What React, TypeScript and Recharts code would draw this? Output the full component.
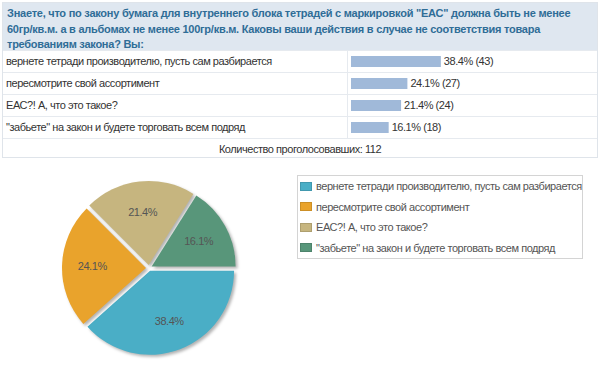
import {
  Bar,
  BarChart,
  Cell,
  LabelList,
  Legend,
  Pie,
  PieChart,
  Sector,
  XAxis,
  YAxis,
} from "recharts";

const questionLines = [
  "Знаете, что по закону бумага для внутреннего блока тетрадей с маркировкой \"ЕАС\" должна быть не менее",
  "60гр/кв.м. а в альбомах не менее 100гр/кв.м. Каковы ваши действия в случае не соответствия товара",
  "требованиям закона? Вы:",
];

const answers = [
  "вернете тетради производителю, пусть сам разбирается",
  "пересмотрите свой ассортимент",
  "ЕАС?! А, что это такое?",
  "\"забьете\" на закон и будете торговать всем подряд",
];
const votes = [43, 27, 24, 18];
const shares = [38.4, 24.1, 21.4, 16.1];
const totalVotes = 112;
const sliceColors = ["#4aaec6", "#e9a32c", "#c6b57f", "#58967a"];

const FONT = '"Liberation Sans", Arial, sans-serif';
const TIGHT = -0.45;
const RAD = Math.PI / 180;

const barData = answers.map((name, i) => ({
  name,
  share: shares[i],
  text: `${shares[i]}% (${votes[i]})`,
}));

const pieData = answers.map((name, i) => ({ name, votes: votes[i] }));

// each slice is pushed a few px out along its middle angle, with a soft shadow
function ExplodedSlice(props: any) {
  const { cx, cy, midAngle, innerRadius, outerRadius, startAngle, endAngle, percent, index } = props;
  const cos = Math.cos(-midAngle * RAD);
  const sin = Math.sin(-midAngle * RAD);
  const ox = cx + 3 * cos;
  const oy = cy + 3 * sin;
  const r = outerRadius * 0.64;
  return (
    <g>
      <Sector
        cx={ox}
        cy={oy}
        innerRadius={innerRadius}
        outerRadius={outerRadius}
        startAngle={startAngle}
        endAngle={endAngle}
        fill={sliceColors[index]}
        style={{ filter: "drop-shadow(2px 2px 1.5px rgba(0,0,0,0.3))" }}
      />
      <text
        x={ox + r * cos}
        y={oy + r * sin}
        textAnchor="middle"
        dominantBaseline="central"
        fill="#555"
        fontSize={11}
        fontFamily={FONT}
        style={{ letterSpacing: TIGHT }}
      >
        {(percent * 100).toFixed(1)}%
      </text>
    </g>
  );
}

// legend keeps the answer order of the table
function LegendBox() {
  return (
    <div
      style={{
        border: "1px solid #d4d4d4",
        padding: "0 0 0 2px",
        fontFamily: FONT,
        fontSize: 11,
        letterSpacing: TIGHT,
        color: "#555",
        whiteSpace: "nowrap",
      }}
    >
      {answers.map((a, i) => (
        <div key={i} style={{ display: "flex", alignItems: "center", height: 20.5 }}>
          <span
            style={{
              display: "inline-block",
              flexShrink: 0,
              width: 10,
              height: 7,
              background: sliceColors[i],
              border: "1px solid rgba(0,0,0,0.12)",
              marginRight: 4,
            }}
          />
          {a}
        </div>
      ))}
    </div>
  );
}

export default function App() {
  return (
    <div
      style={{
        position: "absolute",
        left: 0,
        top: 0,
        width: 600,
        height: 370,
        background: "#fff",
        fontFamily: FONT,
      }}
    >
      {/* poll table */}
      <div
        style={{
          position: "absolute",
          left: 2,
          top: 2,
          width: 596,
          height: 156,
          border: "1px solid #dfe4ea",
          boxSizing: "border-box",
        }}
      >
        <div
          style={{
            position: "absolute",
            left: 0,
            top: 0,
            right: 0,
            height: 47,
            background: "#dfe7f0",
            padding: "3px 4px",
            boxSizing: "border-box",
            color: "#2f6d97",
            fontWeight: "bold",
            fontSize: 11,
            letterSpacing: -0.25,
            lineHeight: "15.5px",
            whiteSpace: "nowrap",
          }}
        >
          {questionLines.map((l, i) => (
            <div key={i}>{l}</div>
          ))}
        </div>
        {answers.map((a, i) => (
          <div
            key={i}
            style={{
              position: "absolute",
              left: 0,
              right: 0,
              top: 47 + i * 22,
              height: 22,
              borderTop: "1px solid #e6eaef",
              boxSizing: "border-box",
              paddingLeft: 3,
              lineHeight: "21px",
              fontSize: 11,
              letterSpacing: TIGHT,
              color: "#333",
            }}
          >
            {a}
          </div>
        ))}
        <div
          style={{
            position: "absolute",
            left: 344,
            top: 47,
            width: 1,
            height: 88,
            background: "#e6eaef",
          }}
        />
        <div
          style={{
            position: "absolute",
            left: 0,
            right: 0,
            top: 135,
            height: 19,
            borderTop: "1px solid #e6eaef",
            textAlign: "center",
            lineHeight: "20px",
            fontSize: 11,
            letterSpacing: TIGHT,
            color: "#333",
          }}
        >
          Количество проголосовавших: {totalVotes}
        </div>
      </div>

      <div style={{ position: "absolute", left: 351, top: 50 }}>
        <BarChart
          width={234}
          height={88}
          layout="vertical"
          data={barData}
          margin={{ top: 0, right: 0, bottom: 0, left: 0 }}
        >
          <XAxis type="number" domain={[0, 100]} hide />
          <YAxis type="category" dataKey="name" hide />
          <Bar dataKey="share" fill="#a0b9d9" barSize={11} isAnimationActive={false}>
            <LabelList
              dataKey="text"
              position="right"
              offset={3}
              fill="#333"
              fontSize={11}
              fontFamily={FONT}
              style={{ letterSpacing: TIGHT }}
            />
          </Bar>
        </BarChart>
      </div>

      <div style={{ position: "absolute", left: 0, top: 160 }}>
        <PieChart width={600} height={210} margin={{ top: 0, right: 0, bottom: 0, left: 0 }}>
          <Pie
            data={pieData}
            dataKey="votes"
            nameKey="name"
            cx={149}
            cy={108}
            outerRadius={84}
            startAngle={0}
            endAngle={-360}
            stroke="none"
            label={ExplodedSlice}
            labelLine={false}
            isAnimationActive={false}
          >
            {pieData.map((_, i) => (
              <Cell key={i} fill="transparent" />
            ))}
          </Pie>
          <Legend
            layout="vertical"
            content={LegendBox}
            wrapperStyle={{ left: 297, top: 15, width: 286, bottom: "auto", right: "auto" }}
          />
        </PieChart>
      </div>
    </div>
  );
}
